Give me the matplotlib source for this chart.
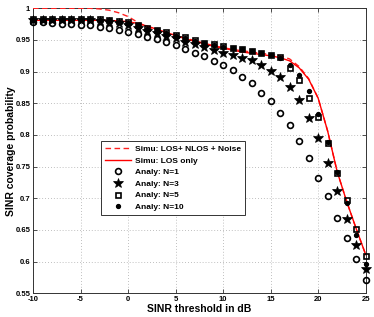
import matplotlib
matplotlib.use("Agg")
import matplotlib.pyplot as plt
import numpy as np

plt.rcParams['font.family'] = ['Liberation Sans', 'DejaVu Sans']

snr_db = list(range(-10, 26))

simu_all = [1.0, 1.0, 1.0, 1.0, 1.0, 1.0, 1.0, 0.999, 0.997, 0.993,
            0.987, 0.978, 0.971, 0.966, 0.962, 0.958, 0.953, 0.949, 0.945, 0.941,
            0.938, 0.935, 0.933, 0.931, 0.929, 0.927, 0.925, 0.920, 0.908, 0.889,
            0.858, 0.806, 0.742, 0.695, 0.652, 0.611]

simu_los = [0.981, 0.981, 0.981, 0.981, 0.981, 0.981, 0.981, 0.981, 0.981, 0.980,
            0.979, 0.976, 0.972, 0.967, 0.962, 0.957, 0.952, 0.948, 0.944, 0.940,
            0.937, 0.934, 0.931, 0.929, 0.927, 0.925, 0.922, 0.917, 0.906, 0.888,
            0.858, 0.806, 0.742, 0.695, 0.652, 0.611]

analy_n1 = [0.978, 0.978, 0.977, 0.976, 0.975, 0.974, 0.973, 0.971, 0.969, 0.966,
            0.963, 0.959, 0.954, 0.951, 0.947, 0.942, 0.936, 0.930, 0.924, 0.917,
            0.910, 0.902, 0.892, 0.882, 0.867, 0.853, 0.835, 0.815, 0.790, 0.764,
            0.732, 0.704, 0.669, 0.637, 0.604, 0.571]

analy_n3 = [0.981, 0.981, 0.981, 0.981, 0.981, 0.981, 0.981, 0.980, 0.979, 0.977,
            0.974, 0.969, 0.964, 0.961, 0.957, 0.953, 0.947, 0.943, 0.939, 0.934,
            0.930, 0.926, 0.922, 0.918, 0.910, 0.901, 0.891, 0.875, 0.856, 0.827,
            0.795, 0.755, 0.711, 0.668, 0.627, 0.588]

analy_n5 = [0.983, 0.983, 0.983, 0.983, 0.983, 0.983, 0.983, 0.983, 0.982, 0.980,
            0.978, 0.974, 0.969, 0.966, 0.962, 0.958, 0.954, 0.950, 0.946, 0.943,
            0.940, 0.938, 0.936, 0.933, 0.930, 0.927, 0.923, 0.905, 0.887, 0.858,
            0.828, 0.788, 0.740, 0.697, 0.651, 0.609]

analy_n10 = [0.982, 0.982, 0.982, 0.982, 0.982, 0.982, 0.982, 0.982, 0.981, 0.979,
             0.977, 0.973, 0.968, 0.965, 0.961, 0.957, 0.953, 0.949, 0.945, 0.942,
             0.939, 0.937, 0.935, 0.932, 0.929, 0.926, 0.922, 0.910, 0.895, 0.870,
             0.833, 0.789, 0.741, 0.692, 0.642, 0.596]

xticks = [-10, -5, 0, 5, 10, 15, 20, 25]
yticks = [0.55, 0.6, 0.65, 0.7, 0.75, 0.8, 0.85, 0.9, 0.95, 1.0]
ytick_labels = ['0.55', '0.6', '0.65', '0.7', '0.75', '0.8', '0.85', '0.9', '0.95', '1']

fig = plt.figure(figsize=(3.74, 3.17), dpi=100)
ax = fig.add_axes([33/374, 23.7/317, 332.7/374, 285/317])

ax.plot(snr_db, simu_all, color='#ff2020', linestyle=(0, (4, 2.5)), linewidth=1.0,
        label='Simu: LOS+ NLOS + Noise', zorder=3)
ax.plot(snr_db, simu_los, color='#ff0000', linestyle='-', linewidth=1.0,
        label='Simu: LOS only', zorder=3)
ax.plot(snr_db, analy_n1, linestyle='none', marker='o', markersize=4.2,
        markerfacecolor='none', markeredgecolor='black', markeredgewidth=1.2,
        label='Analy: N=1', zorder=4, clip_on=False)
ax.plot(snr_db, analy_n3, linestyle='none', marker='*', markersize=7,
        color='black', markeredgewidth=0.5, label='Analy: N=3', zorder=4, clip_on=False)
ax.plot(snr_db, analy_n5, linestyle='none', marker='s', markersize=3.6,
        markerfacecolor='none', markeredgecolor='black', markeredgewidth=1.2,
        label='Analy: N=5', zorder=4, clip_on=False)
ax.plot(snr_db, analy_n10, linestyle='none', marker='o', markersize=2.8,
        color='black', label='Analy: N=10', zorder=4, clip_on=False)

ax.set_xlim(-10, 25)
ax.set_ylim(0.55, 1.0)
ax.set_xticks(xticks)
ax.set_xticklabels([str(t) for t in xticks])
ax.set_yticks(yticks)
ax.set_yticklabels(ytick_labels)
ax.tick_params(direction='in', length=3, width=0.6, labelsize=5.5, top=True, right=True,
               pad=2, colors='#333333', labelcolor='black')
for lab in ax.get_xticklabels() + ax.get_yticklabels():
    lab.set_fontweight('bold')
ax.grid(True, linestyle=(0, (1, 2.5)), color='#aaaaaa', linewidth=0.6)
for sp in ax.spines.values():
    sp.set_color('#333333')
    sp.set_linewidth(0.7)

ax.set_xlabel('SINR threshold in dB', fontsize=7.5, fontweight='bold', labelpad=1)
ax.set_ylabel('SINR coverage probability', fontsize=7.5, fontweight='bold', labelpad=-0.5)

leg = ax.legend(loc='upper left', bbox_to_anchor=(0.203, 0.534),
                prop={'weight': 'bold', 'size': 6}, frameon=True, fancybox=False,
                edgecolor='#333333', framealpha=1, handlelength=3.2,
                handletextpad=0.4, labelspacing=0.45, borderpad=0.5,
                borderaxespad=0)
leg.get_frame().set_linewidth(0.7)

fig.savefig('out.png', dpi=100)
